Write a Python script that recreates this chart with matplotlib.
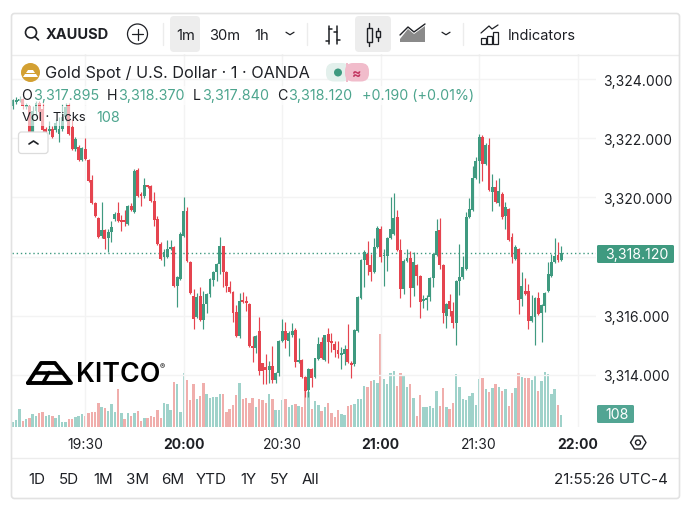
import matplotlib
matplotlib.use("Agg")
import matplotlib.pyplot as plt
from matplotlib.patches import Rectangle, FancyBboxPatch, Circle, Polygon

plt.rcParams['font.family'] = ['Inter', 'DejaVu Sans']

# ---------- data (1-minute candles starting 19:08) ----------
open_ = [
 3323.09,3323.22,3323.25,3323.32,3323.05,3323.09,3322.21,3322.92,3323.19,3322.99,
 3322.31,3322.24,3322.31,3322.28,3322.14,3322.31,3322.72,3323.12,3322.38,3321.64,
 3321.70,3321.26,3321.64,3321.26,3320.59,3319.81,3319.30,3318.70,3318.90,3318.63,
 3318.83,3319.27,3319.47,3319.24,3319.24,3319.10,3319.71,3319.51,3320.93,3320.11,
 3320.05,3320.42,3320.38,3319.88,3319.27,3318.43,3317.99,3317.99,3318.26,3318.32,
 3317.01,3317.24,3318.70,3319.54,3317.82,3316.67,3315.96,3316.67,3315.86,3316.40,
 3316.74,3317.21,3317.48,3317.75,3318.36,3317.48,3316.97,3316.80,3316.13,3315.32,
 3316.50,3316.50,3316.40,3314.98,3314.91,3315.49,3314.40,3314.27,3314.17,3314.30,
 3313.83,3314.06,3315.15,3315.49,3315.15,3315.35,3315.52,3314.44,3314.50,3313.93,
 3313.49,3314.20,3313.93,3314.54,3315.11,3314.50,3315.39,3315.15,3315.05,3314.84,
 3314.69,3314.71,3314.88,3314.37,3314.37,3315.49,3316.60,3317.88,3318.09,3317.72,
 3317.48,3318.32,3318.93,3318.02,3318.02,3318.63,3318.76,3319.34,3318.22,3316.91,
 3317.85,3317.95,3316.94,3317.72,3317.34,3316.50,3316.53,3316.64,3317.28,3318.05,
 3318.90,3317.72,3316.00,3316.50,3316.16,3315.76,3317.17,3317.31,3317.58,3319.34,
 3319.58,3320.66,3321.23,3322.04,3321.13,3321.77,3320.18,3320.35,3319.81,3320.11,
 3319.37,3319.61,3318.66,3317.92,3318.26,3316.57,3316.84,3316.84,3315.82,3315.96,
 3316.60,3316.10,3316.33,3316.84,3317.34,3317.82,3318.05,3317.895]
high = [
 3323.32,3323.39,3323.43,3323.36,3323.19,3323.12,3323.09,3323.25,3323.25,3323.19,
 3322.38,3322.58,3322.41,3322.65,3322.72,3323.15,3323.19,3323.19,3322.65,3322.04,
 3321.77,3321.70,3322.01,3321.30,3320.76,3319.85,3319.34,3319.85,3318.93,3318.93,
 3319.20,3319.51,3319.85,3319.41,3319.58,3319.75,3319.81,3320.96,3320.99,3320.18,
 3320.66,3320.42,3320.42,3320.18,3319.37,3318.49,3318.26,3318.56,3318.56,3318.36,
 3317.34,3318.83,3320.01,3319.68,3317.85,3316.91,3316.77,3316.97,3316.84,3316.77,
 3317.28,3317.51,3317.78,3318.66,3318.36,3317.51,3317.17,3316.84,3316.37,3316.77,
 3316.80,3316.67,3316.43,3315.32,3315.35,3315.96,3314.40,3314.71,3314.47,3314.98,
 3314.10,3315.18,3315.89,3315.79,3315.49,3315.76,3315.59,3315.25,3314.54,3313.97,
 3314.24,3314.24,3314.57,3315.28,3315.28,3315.35,3315.59,3315.42,3315.15,3315.15,
 3314.95,3315.01,3315.72,3314.47,3315.55,3316.67,3317.92,3318.22,3318.53,3318.09,
 3318.63,3319.03,3319.03,3318.26,3318.66,3320.01,3320.15,3319.58,3318.59,3317.92,
 3318.26,3318.19,3318.16,3317.75,3317.38,3316.70,3316.70,3317.31,3318.12,3319.27,
 3319.30,3317.75,3316.43,3316.74,3316.47,3317.21,3318.43,3318.02,3319.51,3319.98,
 3321.06,3321.37,3322.14,3322.11,3321.84,3322.01,3320.79,3320.59,3320.66,3320.18,
 3319.85,3319.64,3318.80,3318.39,3318.29,3317.48,3317.28,3317.07,3316.70,3316.64,
 3316.80,3316.40,3316.80,3317.82,3318.09,3318.63,3318.49,3318.37]
low = [
 3322.99,3323.15,3323.22,3322.99,3322.99,3322.18,3322.18,3322.72,3322.65,3322.21,
 3322.18,3322.14,3322.01,3322.21,3321.87,3322.24,3322.58,3322.11,3321.60,3321.57,
 3321.23,3321.23,3321.26,3320.52,3319.78,3319.34,3318.63,3318.63,3318.26,3318.16,
 3318.49,3319.20,3319.17,3318.86,3319.03,3319.07,3319.54,3319.47,3320.01,3319.71,
 3319.98,3320.32,3319.85,3319.03,3318.39,3317.88,3317.68,3317.95,3318.22,3316.97,
 3316.30,3317.21,3318.66,3317.82,3316.74,3315.55,3315.93,3315.82,3315.55,3316.10,
 3316.64,3317.01,3317.17,3317.41,3316.97,3316.80,3316.77,3315.79,3315.28,3315.25,
 3316.43,3316.16,3314.95,3314.44,3314.74,3314.00,3313.70,3313.70,3313.73,3313.73,
 3313.73,3313.97,3315.11,3314.91,3314.64,3315.28,3314.27,3314.40,3313.90,3313.26,
 3313.26,3313.60,3313.90,3314.50,3314.54,3314.47,3314.40,3314.78,3314.60,3314.57,
 3314.20,3314.34,3314.40,3313.90,3314.30,3315.45,3316.57,3316.97,3317.38,3317.17,
 3317.45,3318.29,3317.82,3317.01,3317.51,3318.59,3318.73,3318.19,3316.60,3316.74,
 3317.82,3316.30,3316.67,3317.04,3315.93,3316.27,3316.20,3316.50,3316.97,3318.02,
 3317.58,3315.76,3315.59,3316.00,3315.59,3315.01,3316.70,3317.24,3317.55,3319.30,
 3319.54,3320.62,3320.49,3320.55,3321.09,3320.22,3319.54,3319.81,3319.71,3319.27,
 3318.93,3318.53,3317.78,3317.88,3316.06,3316.33,3316.70,3315.55,3315.79,3315.01,
 3316.03,3315.11,3316.13,3316.80,3317.31,3317.78,3317.82,3317.84]
close = [
 3323.29,3323.29,3323.32,3323.09,3323.12,3322.21,3322.92,3323.19,3322.89,3322.28,
 3322.21,3322.31,3322.04,3322.51,3322.31,3322.72,3323.05,3322.14,3321.64,3321.97,
 3321.26,3321.67,3321.30,3320.55,3319.81,3319.37,3318.66,3318.90,3318.59,3318.83,
 3319.00,3319.44,3319.20,3319.17,3319.17,3319.71,3319.58,3320.89,3320.05,3320.05,
 3320.42,3320.35,3319.88,3319.24,3318.43,3317.92,3318.16,3318.26,3318.32,3317.01,
 3317.31,3318.76,3319.54,3317.85,3316.77,3315.89,3316.64,3315.86,3316.40,3316.74,
 3317.24,3317.48,3317.75,3318.36,3317.48,3317.01,3316.80,3316.10,3315.32,3316.50,
 3316.47,3316.43,3314.98,3314.91,3315.32,3314.13,3314.13,3314.17,3314.30,3313.83,
 3314.06,3315.15,3315.49,3315.18,3315.42,3315.49,3314.44,3314.50,3313.93,3313.46,
 3314.20,3313.90,3314.57,3315.05,3314.57,3315.35,3315.11,3315.08,3314.84,3314.71,
 3314.74,3314.88,3314.44,3314.34,3315.52,3316.64,3317.88,3318.16,3317.72,3317.48,
 3318.32,3318.97,3317.99,3318.05,3318.63,3318.93,3319.30,3318.22,3316.91,3317.85,
 3317.95,3316.94,3317.82,3317.34,3316.47,3316.57,3316.60,3317.28,3318.09,3318.86,
 3317.72,3316.10,3316.40,3316.23,3315.76,3317.17,3317.31,3317.65,3319.34,3319.61,
 3320.66,3321.23,3322.04,3321.13,3321.77,3320.25,3320.35,3319.85,3320.22,3319.34,
 3319.68,3318.56,3317.99,3318.32,3316.53,3317.01,3316.74,3315.82,3315.99,3316.60,
 3316.06,3316.37,3316.77,3317.41,3317.82,3318.02,3317.88,3318.12]
volume = [
 43,63,156,52,69,78,112,95,121,130,
 95,104,95,78,104,43,43,69,69,86,
 95,112,95,121,130,130,207,173,164,138,
 199,130,328,121,69,121,95,121,138,52,
 78,78,95,86,147,78,207,199,147,389,
 372,130,467,406,233,372,242,268,380,285,
 251,259,259,285,285,130,156,190,276,380,
 242,251,207,251,173,242,233,207,285,242,
 147,147,233,242,173,190,199,181,173,328,
 302,156,225,190,138,173,207,121,86,147,
 112,104,181,190,199,242,242,354,346,397,
 406,380,804,415,372,467,484,354,467,449,
 346,372,251,95,276,173,173,181,164,311,
 181,337,173,156,207,458,346,242,233,268,
 294,190,415,423,328,302,337,372,346,311,
 328,181,294,337,467,432,423,423,406,441,
 311,397,475,458,285,328,190,108]
volume_dir = ("gggrgrggrr" "ggrggggrrg" "ggrrrrrgrg" "ggrgrgrgrr" "grrrrrgggr"
              "gggrrrgrrg" "ggggrrrrrg" "rrrrgrrrgr" "gggrggrgrr" "grggrgrrrr"
              "ggrrggggrr" "ggrggggrrg" "grgrrggggg" "rrgrrggggg" "gggrgrgrgr"
              "grrgrgrrgg" "rggggg" "rg")
price_ticks = [3314, 3316, 3318, 3320, 3322, 3324]
price_labels = ["3,314.000", "3,316.000", "", "3,320.000", "3,322.000", "3,324.000"]
time_ticks = [22, 52, 82, 112, 142, 172]
time_labels = ["19:30", "20:00", "20:30", "21:00", "21:30", "22:00"]
ranges = ["1D", "5D", "1M", "3M", "6M", "YTD", "1Y", "5Y", "All"]

UP, DOWN = "#3f9a80", "#e5444f"
VUP, VDOWN = "#9fd2ca", "#f0aeac"
INK, TXT_UP = "#1e2025", "#4da58e"
GRID = "#f3f3f3"

W, H = 700, 506
fig = plt.figure(figsize=(W / 100, H / 100), dpi=100, facecolor="white")
rect = [12 / W, (H - 428) / H, (596 - 12) / W, (428 - 55) / H]

# ---------- volume pane (same frame, own scale) ----------
axv = fig.add_axes(rect, zorder=1)
axv.set_xlim(-0.3046, 177.58)
axv.set_ylim(0, 3223)
axv.axis("off")
xs = list(range(len(close)))
axv.bar(xs, volume, width=0.74, linewidth=0,
        color=[VUP if d == "g" else VDOWN for d in volume_dir])

# ---------- price pane ----------
ax = fig.add_axes(rect, zorder=2)
ax.patch.set_alpha(0)
ax.set_xlim(-0.3046, 177.58)
ax.set_ylim(3312.243, 3324.845)
for s in ax.spines.values():
    s.set_visible(False)
ax.yaxis.tick_right()
ax.set_yticks(price_ticks, price_labels)
ax.set_xticks(time_ticks, time_labels)
ax.tick_params(length=0, labelsize=10, labelcolor=INK)
ax.tick_params(axis="y", pad=5.4)
ax.tick_params(axis="x", pad=7.5)
for lab in ax.get_xticklabels():
    if lab.get_text().endswith(":00"):
        lab.set_fontweight("bold")
ax.grid(True, color=GRID, lw=1)
ax.set_axisbelow(True)

colors = [UP if c >= o else DOWN for o, c in zip(open_, close)]
ax.vlines(xs, low, high, colors=colors, linewidth=0.85, zorder=3)
ax.bar(xs, [max(abs(c - o), 0.05) for o, c in zip(open_, close)],
       bottom=[min(o, c) for o, c in zip(open_, close)],
       width=0.88, color=colors, linewidth=0, zorder=4)
ax.axhline(close[-1], color=UP, lw=1, ls=(0, (1, 2)), zorder=2.5)

# ---------- interface chrome (pixel coordinates) ----------
ui = fig.add_axes([0, 0, 1, 1], zorder=5)
ui.set_xlim(0, W)
ui.set_ylim(H, 0)
ui.axis("off")
ui.patch.set_alpha(0)

def line(xa, ya, color=INK, lw=1.0, **k):
    ui.plot(xa, ya, color=color, lw=lw, solid_capstyle="round", **k)

def label(x, y, s, size=10, color=INK, ha="left", weight="normal"):
    ui.text(x, y, s, fontsize=size, color=color, ha=ha, va="center", fontweight=weight)

def rbox(x0, y0, x1, y1, r, fc, ec="none", lw=0.0, z=2):
    ui.add_patch(FancyBboxPatch((x0, y0), x1 - x0, y1 - y0,
                                boxstyle=f"round,pad=0,rounding_size={r}",
                                fc=fc, ec=ec, lw=lw, zorder=z))

def chevron(cx, cy, up=False, w=4, h=2.5, lw=0.9):
    d = -h if up else h
    line([cx - w, cx, cx + w], [cy - d / 2, cy + d / 2, cy - d / 2], lw=lw)

# legend veils over the candles
ui.add_patch(Rectangle((19, 87), 457, 19, fc="white", alpha=0.6, lw=0))
ui.add_patch(Rectangle((19, 107), 105, 20, fc="white", alpha=0.6, lw=0))

# frame and separators
rbox(11.5, 14.5, 679.5, 499.5, 3, "none", "#e2e2e2", 1.2, z=6)
line([12, 679], [55.5, 55.5], "#ececec", 1)
line([12, 679], [458.5, 458.5], "#ececec", 1)
ui.add_patch(Rectangle((12, 15), 667, 40, fc="white", lw=0, zorder=0.5))
for sx in (163, 307, 463):
    line([sx, sx], [24, 46], "#ececec", 1)

# toolbar
ui.add_patch(Circle((31, 33.5), 5.5, fc="none", ec=INK, lw=1.2))
line([35, 38.5], [37.5, 41], lw=1.2)
label(46, 35, "XAUUSD", 10.5, weight="bold")
ui.add_patch(Circle((137.5, 35), 10, fc="none", ec=INK, lw=0.9))
line([132, 143], [35, 35], lw=0.9)
line([137.5, 137.5], [29.5, 40.5], lw=0.9)
rbox(170, 17, 200, 53, 4, "#ededed")
rbox(355, 17, 391, 53, 4, "#ededed")
label(185.5, 35.5, "1m", 10.6, ha="center")
label(224.5, 35.5, "30m", 10.6, ha="center")
label(262, 35.5, "1h", 10.6, ha="center")
chevron(290, 34.5)
# bar-style icon
line([329, 329], [27, 45], lw=1.1)
line([326, 329], [42, 42], lw=1.1)
line([329, 332], [30, 30], lw=1.1)
line([337, 337], [27, 45], lw=1.1)
line([334, 337], [33, 33], lw=1.1)
line([337, 340], [41, 41], lw=1.1)
# candle-style icon
line([369, 369], [24, 47], lw=1.0)
ui.add_patch(Rectangle((366.5, 29), 5, 14, fc="#ededed", ec=INK, lw=1.0, zorder=3))
line([377.5, 377.5], [29, 42], lw=1.0)
ui.add_patch(Rectangle((375.5, 32), 4, 6, fc="#ededed", ec=INK, lw=1.0, zorder=3))
# area-style icon
area_x = [400, 408, 414, 425, 425, 400]
area_y = [40, 30, 35, 27, 43, 43]
ui.add_patch(Polygon(list(zip(area_x, area_y)), fc="#8a8a8a", lw=0))
line([400, 408, 414, 425], [36, 28, 33, 25], lw=1.0)
chevron(446, 34.5)
# indicators icon
line([481, 489, 492, 498], [34, 27, 30, 26], lw=0.9)
for bx, bt in ((481, 39), (487, 37), (493, 33)):
    ui.add_patch(Rectangle((bx, bt), 5, 44.5 - bt, fc="none", ec=INK, lw=0.9))
label(508, 36, "Indicators", 10.5)

# legend
ui.add_patch(Circle((30.5, 73.5), 9.5, fc="#d3a032", lw=0))
ui.add_patch(Polygon([(26, 74), (28, 71), (33, 71), (35, 74)], fc="white", lw=0))
ui.add_patch(Polygon([(23, 78), (25, 75), (36, 75), (38, 78)], fc="white", lw=0))
label(45, 73.5, "Gold Spot / U.S. Dollar · 1 · OANDA", 11.7)
rbox(326, 64, 350, 82.5, 8, "#e3f0ec")
rbox(345, 64, 369, 82.5, 8, "#f1bccb")
ui.add_patch(Rectangle((346, 64), 2, 18.5, fc="#f1bccb", lw=0, zorder=3))
ui.add_patch(Circle((338, 73.5), 4, fc=UP, lw=0, zorder=4))
label(357, 73.5, "≈", 10, color="#c2335f", ha="center", weight="bold")

for x, s in ((21, "O"), (107, "H"), (193, "L"), (277, "C")):
    label(x, 96, s, 10.2)
for x, s in ((33, "3,317.895"), (118, "3,318.370"), (202, "3,317.840"),
             (288, "3,318.120"), (362, "+0.190 (+0.01%)")):
    label(x, 96, s, 10.3, color=TXT_UP)
label(22, 117.5, "Vol · Ticks", 9.4)
label(96, 117.5, "108", 10.4, color=TXT_UP)
rbox(18.5, 133, 48, 154.5, 3, "white", "#dcdcdc", 0.9)
chevron(33.5, 143.5, up=True, w=4.5, h=3, lw=1.2)

# last-value tags
rbox(597, 246, 674, 264, 1.5, UP)
label(605, 255, "3,318.120", 10.2, color="white")
rbox(597, 406, 634, 424, 1.5, "#52a593")
label(605, 415, "108", 10.2, color="white")

# logo
line([28, 41, 55, 71, 28], [384, 364, 364, 384, 384], "black", 2.8)
line([35, 63], [373.5, 373.5], "black", 2.6)
line([49, 43], [373.5, 384], "black", 2.6)
label(75.5, 375.5, "KITCO", 19.3, color="black", weight="semibold")
label(160, 367.5, "®", 5.5, color="black")

# settings hexagon
hex_x = [630.5, 634.5, 642, 646, 642, 634.5, 630.5]
hex_y = [443.5, 437, 437, 443.5, 450, 450, 443.5]
line(hex_x, hex_y, lw=1.0)
ui.add_patch(Circle((638, 443.5), 2.5, fc="none", ec=INK, lw=1.0))

# range buttons
range_x = [37, 69, 103.5, 138, 172.5, 211, 248, 279, 310]
for x, s in zip(range_x, ranges):
    label(x, 480, s, 10.9, ha="center")
label(668, 480, "21:55:26 UTC-4", 10.9, ha="right")

fig.savefig("out.png", dpi=100, facecolor="white")
